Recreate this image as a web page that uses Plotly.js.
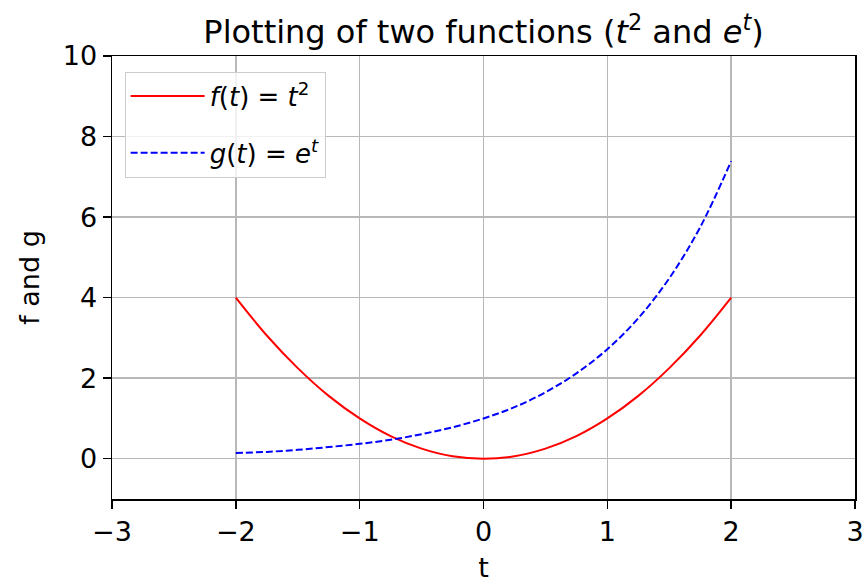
<!DOCTYPE html>
<html>
<head>
<meta charset="utf-8">
<script src="https://cdn.plot.ly/plotly-3.0.1.min.js"></script>
<style>
  html, body { margin: 0; padding: 0; background: #ffffff; }
  #chart { width: 868px; height: 583px; }
</style>
</head>
<body>
<div id="chart"></div>
<script>
// Sample points in t
const tValues = [-2, -1.75, -1.5, -1.25, -1, -0.75, -0.5, -0.25, 0,
                 0.25, 0.5, 0.75, 1, 1.25, 1.5, 1.75, 2];

// f(t) = t^2
const fValues = [4, 3.06, 2.25, 1.56, 1, 0.56, 0.25, 0.06, 0,
                 0.06, 0.25, 0.56, 1, 1.56, 2.25, 3.06, 4];

// g(t) = e^t
const gValues = [0.14, 0.17, 0.22, 0.29, 0.37, 0.47, 0.61, 0.78, 1,
                 1.28, 1.65, 2.12, 2.72, 3.49, 4.48, 5.75, 7.39];

const xTicks = [-3, -2, -1, 0, 1, 2, 3];
const yTicks = [0, 2, 4, 6, 8, 10];
const xTickText = ['\u22123', '\u22122', '\u22121', '0', '1', '2', '3'];

const FONT = 'DejaVu Sans, sans-serif';

const traces = [
  {
    x: tValues, y: fValues,
    mode: 'lines',
    line: { color: '#ff0000', width: 2, shape: 'spline' },
    name: '<i>f</i>(<i>t</i>) = <i>t</i><sup>2</sup>',
    legendgroup: 'f'
  },
  {
    x: tValues, y: gValues,
    mode: 'lines',
    line: { color: '#0000ff', width: 2, dash: '7px,3px', shape: 'spline' },
    name: '<i>g</i>(<i>t</i>) = <i>e</i><sup><i>t</i></sup>',
    legendgroup: 'g'
  }
];

const axisCommon = {
  showline: true, linecolor: '#000000', linewidth: 1.5, mirror: true,
  showgrid: true, gridcolor: '#b8b8b8', gridwidth: 1.5,
  zeroline: false,
  ticks: 'outside', ticklen: 8, tickwidth: 1.5, tickcolor: '#000000',
  tickfont: { family: FONT, size: 27, color: '#000000' },
  automargin: false
};

const layout = {
  width: 868, height: 583,
  margin: { l: 112, r: 13, t: 56, b: 84 },
  paper_bgcolor: '#ffffff', plot_bgcolor: '#ffffff',
  font: { family: FONT, color: '#000000' },
  title: {
    text: 'Plotting of two functions (<i>t</i><sup>2</sup> and <i>e</i><sup><i>t</i></sup>)',
    font: { family: FONT, size: 32, color: '#000000' },
    x: 0.5, xref: 'paper', xanchor: 'center',
    y: 0.945, yref: 'container', yanchor: 'middle'
  },
  xaxis: Object.assign({}, axisCommon, {
    range: [-3, 3],
    tickvals: xTicks, ticktext: xTickText,
    title: { text: 't', font: { family: FONT, size: 27, color: '#000000' }, standoff: 14 }
  }),
  yaxis: Object.assign({}, axisCommon, {
    range: [-1, 10],
    tickvals: yTicks,
    title: { text: 'f and g', font: { family: FONT, size: 27, color: '#000000' }, standoff: 15 }
  }),
  showlegend: true,
  legend: {
    x: 0.017, y: 0.965, xanchor: 'left', yanchor: 'top',
    bgcolor: 'rgba(255,255,255,0.8)',
    bordercolor: '#cccccc', borderwidth: 1,
    font: { family: FONT, size: 26, color: '#000000' },
    itemwidth: 74,
    traceorder: 'grouped', tracegroupgap: 20
  }
};

Plotly.newPlot('chart', traces, layout, { displayModeBar: false, staticPlot: true });
</script>
</body>
</html>
